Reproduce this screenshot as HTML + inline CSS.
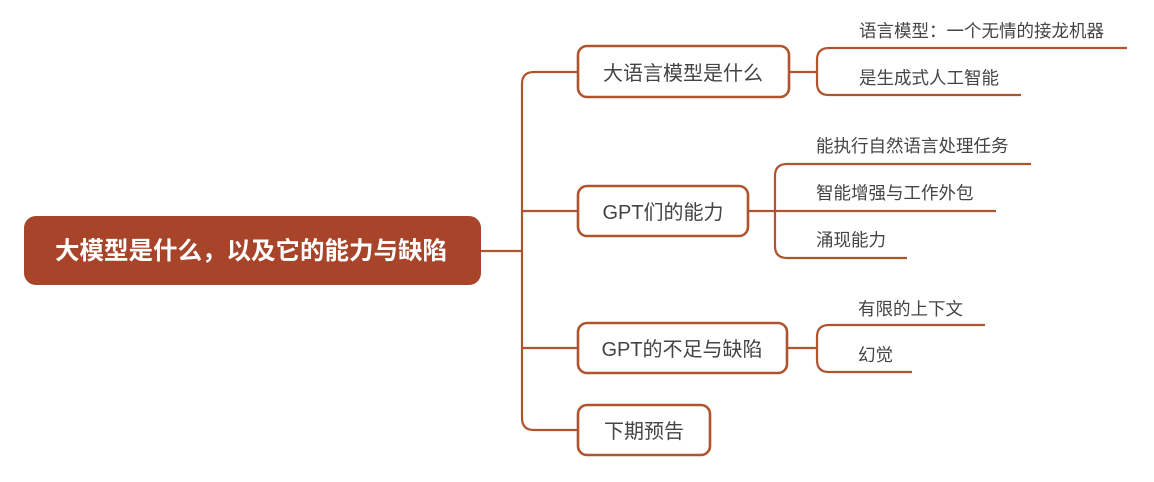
<!DOCTYPE html>
<html><head><meta charset="utf-8"><style>
html,body{margin:0;padding:0;background:#fff;}
svg{display:block;}
text{font-family:"Liberation Sans","Noto Sans CJK SC",sans-serif;}
</style></head><body>
<svg width="1154" height="482" viewBox="0 0 1154 482" xmlns="http://www.w3.org/2000/svg">
<g fill="none" stroke="#b0532f" stroke-width="2.2">
  <path d="M481 251 H522"/>
  <path d="M578 72 H534 Q522 72 522 84 V418 Q522 430 534 430 H578"/>
  <path d="M522 211 H578"/>
  <path d="M522 348 H578"/>
  <path d="M789 72 H817"/>
  <path d="M1127 48 H829 Q817 48 817 60 V83 Q817 95 829 95 H1021"/>
  <path d="M748 211 H996"/>
  <path d="M1031 164 H787 Q775 164 775 176 V246 Q775 258 787 258 H907"/>
  <path d="M787 348 H817"/>
  <path d="M985 325 H829 Q817 325 817 337 V360 Q817 372 829 372 H912"/>
  <rect x="578" y="46" width="211" height="51" rx="9" fill="#fff" stroke-width="2.6"/>
  <rect x="578" y="186" width="170" height="50" rx="9" fill="#fff" stroke-width="2.6"/>
  <rect x="578" y="323" width="209" height="50" rx="9" fill="#fff" stroke-width="2.6"/>
  <rect x="578" y="405" width="132" height="50" rx="9" fill="#fff" stroke-width="2.6"/>
</g>
<rect x="24" y="216" width="457" height="69" rx="12" fill="#a8442a"/>
<text x="251" y="259" text-anchor="middle" font-size="24.5" font-weight="bold" fill="#fff">大模型是什么，以及它的能力与缺陷</text>
<g font-size="20" fill="#444">
  <text x="683" y="80" text-anchor="middle">大语言模型是什么</text>
  <text x="663" y="219" text-anchor="middle">GPT们的能力</text>
  <text x="682" y="356" text-anchor="middle">GPT的不足与缺陷</text>
  <text x="644" y="438" text-anchor="middle">下期预告</text>
</g>
<g font-size="17.5" fill="#444">
  <text x="859" y="37">语言模型：一个无情的接龙机器</text>
  <text x="859" y="84">是生成式人工智能</text>
  <text x="816" y="152">能执行自然语言处理任务</text>
  <text x="816" y="199">智能增强与工作外包</text>
  <text x="816" y="246">涌现能力</text>
  <text x="858" y="315">有限的上下文</text>
  <text x="858" y="361">幻觉</text>
</g>
</svg>
</body></html>
